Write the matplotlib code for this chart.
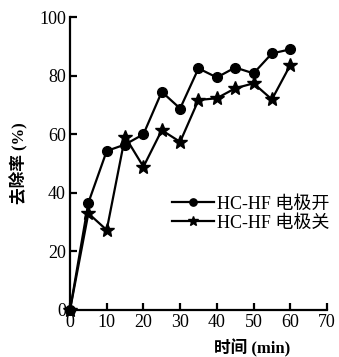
import matplotlib
matplotlib.use("Agg")
import matplotlib.pyplot as plt

time = [0, 5, 10, 15, 20, 25, 30, 35, 40, 45, 50, 55, 60]
on_vals = [0, 36.6, 54.3, 56.5, 60.0, 74.5, 68.8, 82.5, 79.4, 82.8, 80.8, 87.6, 89.0]
off_vals = [0, 33.0, 27.3, 59.2, 48.9, 61.4, 57.4, 71.7, 72.3, 75.7, 77.4, 71.9, 83.6]
labels = ["HC-HF 电极开", "HC-HF 电极关"]
xticks = [0, 10, 20, 30, 40, 50, 60, 70]
yticks = [0, 20, 40, 60, 80, 100]

serif = ["Liberation Serif", "Noto Sans CJK SC"]
mixed = ["Liberation Serif", "Noto Sans CJK SC"]

fig = plt.figure(figsize=(3.39, 3.57), dpi=100)
ax = fig.add_axes([0.2065, 0.1317, 0.758, 0.8203])

ax.plot(time, on_vals, color="black", lw=1.6, marker="o", ms=7, label=labels[0], clip_on=False, zorder=3)
ax.plot(time, off_vals, color="black", lw=1.6, marker="*", ms=10, label=labels[1], clip_on=False, zorder=3)

ax.set_xlim(0, 70)
ax.set_ylim(0, 100)
ax.set_xticks(xticks)
ax.set_yticks(yticks)
ax.spines["top"].set_visible(False)
ax.spines["right"].set_visible(False)
for s in ("left", "bottom"):
    ax.spines[s].set_linewidth(1.6)
ax.tick_params(direction="in", length=5, width=1.6, labelsize=13, pad=3)
for lab in ax.get_xticklabels() + ax.get_yticklabels():
    lab.set_fontfamily(serif)

ax.set_xlabel("时间 (min)", fontsize=12, family=mixed, fontweight="bold", labelpad=5)
ax.xaxis.set_label_coords(0.71, -0.1)
ax.xaxis.label.set_va("top")
ax.set_ylabel("去除率 (%)", fontsize=12, family=mixed, fontweight="bold", labelpad=8)
ax.yaxis.set_label_coords(-0.16, 0.5)

leg = ax.legend(loc="upper left", bbox_to_anchor=(0.37, 0.415), frameon=False,
                handlelength=2.3, handletextpad=0.15, labelspacing=0.1, markerscale=0.75,
                prop={"family": mixed, "size": 13}, borderaxespad=0)

fig.savefig("out.png", dpi=100)
